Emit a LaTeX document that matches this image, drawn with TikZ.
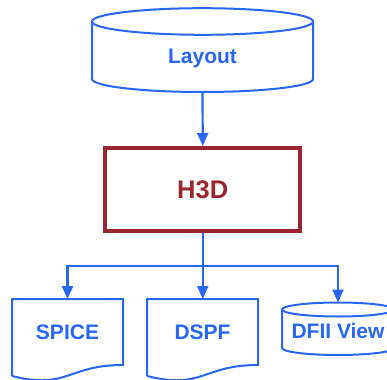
\documentclass[tikz,border=0pt]{standalone}
\usepackage{fontspec}
\setmainfont{Liberation Sans}
\usetikzlibrary{arrows.meta}
\definecolor{lblue}{RGB}{40,102,243}
\definecolor{dred}{RGB}{153,38,48}
\begin{document}
\begin{tikzpicture}[x=1pt,y=-1pt,
  shapeline/.style={draw=lblue,line width=2pt},
  conn/.style={draw=lblue,line width=2.2pt,-{Triangle[length=13pt,width=11pt]}},
  plainconn/.style={draw=lblue,line width=2.2pt},
  lbl/.style={text=lblue,font=\bfseries\fontsize{21}{25}\selectfont,anchor=base,inner sep=0pt},
]
\useasboundingbox (0,0) rectangle (387,379);
\clip (0,0) rectangle (387,379);
% Layout cylinder
\draw[shapeline] (92,21.5) -- (92,79) arc[start angle=180,end angle=0,x radius=110.5,y radius=13] -- (313,21.5);
\draw[shapeline] (202.5,21.5) ellipse[x radius=110.5,y radius=13.3];
\coordinate (layoutbot) at (202.5,92);
\node[lbl] (layout) at (202.5,64) {Layout};
% H3D box
\node[draw=dred,line width=4pt,minimum width=195pt,minimum height=82.5pt,inner sep=0pt,
  text=dred,font=\bfseries\fontsize{25.5}{30}\selectfont] (h3d) at (202.75,189.25) {H3D};
% SPICE document
\draw[shapeline] (12,376) -- (12,299) -- (123,299) -- (123,365) .. controls (67.5,365) and (67.5,390) .. (12,376);
\coordinate (spicetop) at (67.5,299);
\node[lbl] (spice) at (67.5,339) {SPICE};
% DSPF document
\draw[shapeline] (147,376) -- (147,299) -- (258,299) -- (258,365) .. controls (202.5,365) and (202.5,390) .. (147,376);
\coordinate (dspftop) at (202.75,299);
\node[lbl] (dspf) at (202.5,339) {DSPF};
% DFII View cylinder
\draw[shapeline] (282,309.5) -- (282,348) arc[start angle=180,end angle=0,x radius=56,y radius=7] -- (394,309.5);
\draw[shapeline] (338,309.5) ellipse[x radius=56,y radius=7];
\coordinate (dfiitop) at (338,302.5);
\node[lbl] (dfii) at (338,338) {DFII View};
% connectors
\coordinate (split) at (202.75,266);
\draw[conn] (layoutbot) -- (h3d.north);
\draw[plainconn] (h3d.south) -- (split);
\draw[conn] (split) -| (spicetop);
\draw[conn] (split) -| (dfiitop);
\draw[conn] (split) -- (dspftop);
\end{tikzpicture}
\end{document}
